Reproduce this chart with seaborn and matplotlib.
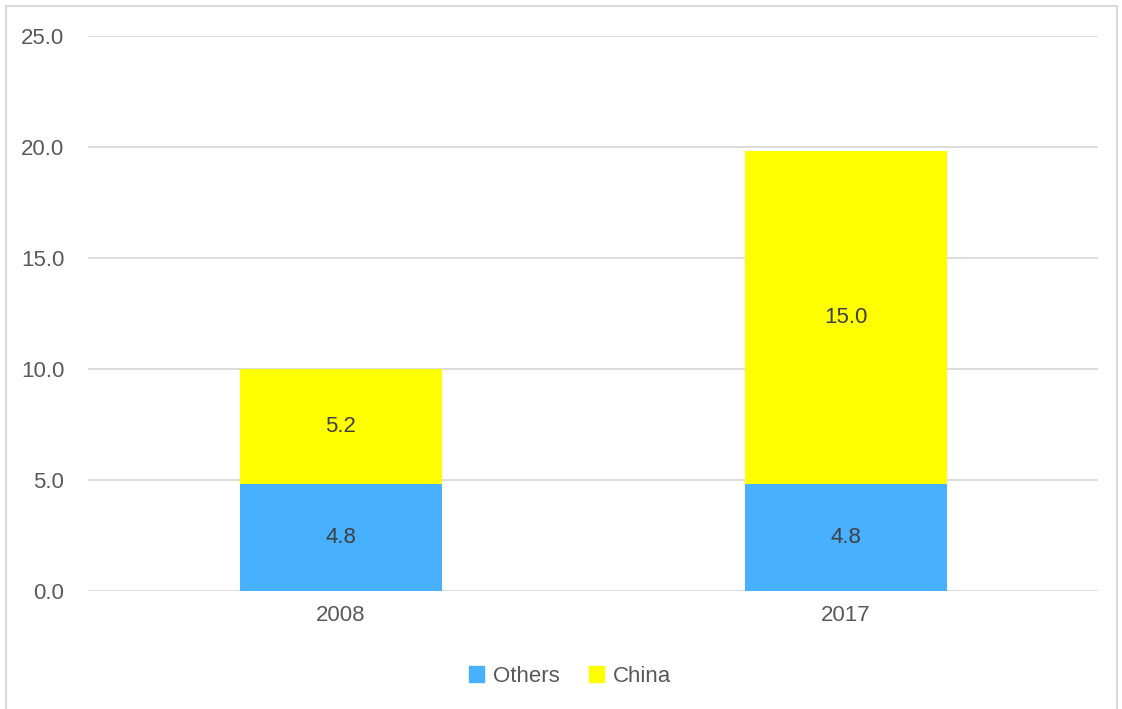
import matplotlib
matplotlib.use("Agg")
import matplotlib.pyplot as plt
import matplotlib.patches as mpatches
import seaborn as sns
import pandas as pd
from matplotlib import font_manager

# data
years = ["2008", "2017"]
others = [4.8, 4.8]
china = [5.2, 15.0]
series_names = ["Others", "China"]
colors = ["#47B0FF", "#FFFF00"]

sns.set_style("white")
names = {f.name for f in font_manager.fontManager.ttflist}
fam = "Liberation Sans Narrow" if "Liberation Sans Narrow" in names else "Liberation Sans"
plt.rcParams["font.family"] = [fam, "DejaVu Sans"]

df = pd.DataFrame({"year": years, "Others": others, "China": china})
df["total"] = df["Others"] + df["China"]

fig = plt.figure(figsize=(11.22, 7.09), dpi=100)
ax = fig.add_axes([88 / 1122, 1 - 591 / 709, 1010 / 1122, 555 / 709])

# stacked bars: draw totals first, then the bottom series over them
sns.barplot(data=df, x="year", y="total", color=colors[1], width=0.4,
            saturation=1, ax=ax, zorder=2, linewidth=0)
sns.barplot(data=df, x="year", y="Others", color=colors[0], width=0.4,
            saturation=1, ax=ax, zorder=3, linewidth=0)

txt_color = "#404040"
for i in range(len(years)):
    ax.text(i, others[i] / 2, f"{others[i]:.1f}", ha="center", va="center",
            fontsize=16, color=txt_color, zorder=4)
    ax.text(i, others[i] + china[i] / 2, f"{china[i]:.1f}", ha="center",
            va="center", fontsize=16, color=txt_color, zorder=4)

ax.set_xlim(-0.5, 1.5)
ax.set_ylim(0, 25)
ax.set_yticks([0, 5, 10, 15, 20, 25])
ax.set_yticklabels([f"{v:.1f}" for v in [0, 5, 10, 15, 20, 25]])
ax.grid(axis="y", color="#D9D9D9", linewidth=1.3, zorder=0)
ax.set_axisbelow(True)
for s in ax.spines.values():
    s.set_visible(False)
ax.tick_params(axis="both", length=0, labelsize=16, labelcolor="#595959")
ax.tick_params(axis="y", pad=17)
ax.tick_params(axis="x", pad=10)
ax.set_xlabel("")
ax.set_ylabel("")

handles = [mpatches.Patch(color=c, label=n) for c, n in zip(colors, series_names)]
fig.legend(handles=handles, loc="center", bbox_to_anchor=(570 / 1122, 1 - 676 / 709),
           ncol=2, frameon=False, fontsize=16, handlelength=0.7, handleheight=0.7,
           handletextpad=0.4, columnspacing=1.3, labelcolor="#595959")

# light frame around the chart area
fig.patches.append(mpatches.Rectangle((6 / 1122, -0.01), 1111 / 1122, 1 - 6 / 709 + 0.01,
                                      transform=fig.transFigure, fill=False,
                                      edgecolor="#D9D9D9", linewidth=1.5))

fig.savefig("out.png", dpi=100)
